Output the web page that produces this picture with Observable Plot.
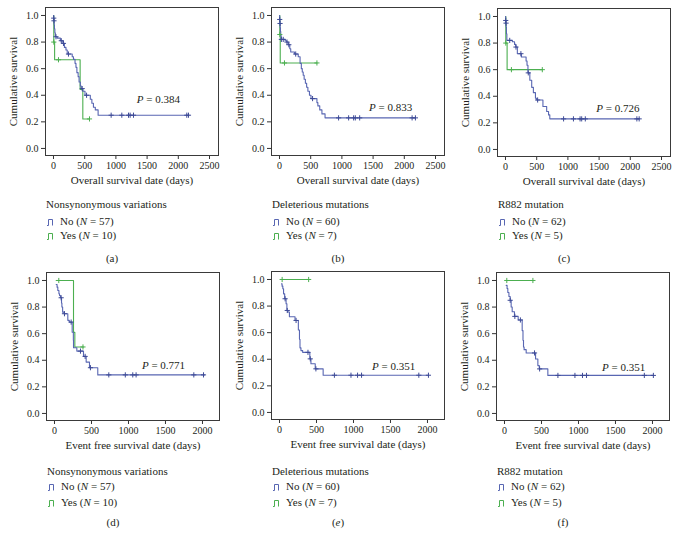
<!DOCTYPE html>
<html>
<head>
<meta charset="utf-8">
<script src="https://cdn.jsdelivr.net/npm/d3@7"></script>
<script src="https://cdn.jsdelivr.net/npm/@observablehq/plot@0.6"></script>
<style>
  html, body { margin: 0; padding: 0; background: #fff; }
  #chart { position: relative; width: 679px; height: 535px; font-family: "Liberation Serif", "DejaVu Serif", serif; color: #231f20; }
  .abs { position: absolute; white-space: nowrap; font-size: 11px; line-height: 14px; }
  .sw { display: inline-block; vertical-align: -1px; margin-right: 6px; }
</style>
</head>
<body>
<div id="chart"></div>
<script>
// ---------- data ----------
const panelLetters = ["a", "b", "c", "d", "e", "f"];
const groupTitles = ["Nonsynonymous variations", "Deleterious mutations", "R882 mutation",
                     "Nonsynonymous variations", "Deleterious mutations", "R882 mutation"];
const nNo = [57, 60, 62, 57, 60, 62];
const nYes = [10, 7, 5, 10, 7, 5];
const pValues = ["0.384", "0.833", "0.726", "0.771", "0.351", "0.351"];
const xLabels = ["Overall survival date (days)", "Overall survival date (days)", "Overall survival date (days)",
                 "Event free survival date (days)", "Event free survival date (days)", "Event free survival date (days)"];
const xTicksOS = [0, 500, 1000, 1500, 2000, 2500];
const xTicksEFS = [0, 500, 1000, 1500, 2000];
const yTicks = [0, 0.2, 0.4, 0.6, 0.8, 1.0];
const yLabel = "Cumulative survival";

// (a) overall survival, nonsynonymous variations
const aNoTime = [0, 3, 6, 10, 15, 22, 30, 60, 110, 150, 175, 200, 220, 300, 320, 345, 360, 375, 395, 410, 430, 445, 470, 505, 590, 615, 640, 670, 715, 2163];
const aNoSurv = [1, 0.98, 0.96, 0.93, 0.90, 0.87, 0.84, 0.83, 0.81, 0.79, 0.76, 0.74, 0.71, 0.69, 0.67, 0.64, 0.61, 0.57, 0.54, 0.50, 0.47, 0.45, 0.43, 0.40, 0.37, 0.34, 0.31, 0.29, 0.25, 0.25];
const aNoCensor = [4, 8, 40, 125, 160, 240, 460, 530, 924, 1095, 1202, 1228, 1282, 2136, 2163];
const aYesTime = [0, 5, 18, 427, 470, 577];
const aYesSurv = [1, 0.80, 0.667, 0.444, 0.222, 0.222];
const aYesCensor = [5, 80, 577];

// (b) overall survival, deleterious mutations
const bNoTime = [0, 3, 6, 10, 15, 20, 27, 90, 115, 140, 165, 180, 240, 300, 330, 350, 365, 380, 395, 415, 435, 455, 480, 505, 600, 615, 645, 680, 730, 2178];
const bNoSurv = [1, 0.97, 0.94, 0.91, 0.88, 0.85, 0.82, 0.81, 0.80, 0.78, 0.75, 0.725, 0.71, 0.69, 0.64, 0.60, 0.575, 0.55, 0.52, 0.49, 0.46, 0.43, 0.40, 0.375, 0.345, 0.32, 0.29, 0.26, 0.23, 0.23];
const bNoCensor = [4, 9, 30, 60, 120, 150, 260, 530, 947, 1108, 1188, 1215, 1285, 2125, 2178];
const bYesTime = [0, 5, 12, 600];
const bYesSurv = [1, 0.857, 0.643, 0.643];
const bYesCensor = [5, 80, 600];

// (c) overall survival, R882 mutation
const cNoTime = [0, 3, 6, 10, 15, 22, 110, 145, 165, 190, 255, 330, 345, 360, 390, 420, 447, 480, 500, 600, 660, 690, 710, 2142];
const cNoSurv = [1, 0.97, 0.95, 0.92, 0.87, 0.82, 0.81, 0.79, 0.77, 0.72, 0.695, 0.665, 0.633, 0.576, 0.52, 0.467, 0.427, 0.385, 0.372, 0.323, 0.285, 0.26, 0.23, 0.23];
const cNoCensor = [4, 9, 68, 168, 247, 365, 515, 931, 1089, 1195, 1221, 1279, 2105, 2142];
const cYesTime = [0, 5, 26, 590];
const cYesSurv = [1, 0.80, 0.60, 0.60];
const cYesCensor = [5, 95, 590];

// (d) event free survival, nonsynonymous variations
const dNoTime = [23, 35, 45, 60, 68, 80, 95, 100, 110, 130, 180, 200, 239, 255, 257, 302, 392, 428, 473, 585, 2027];
const dNoSurv = [0.97, 0.95, 0.925, 0.90, 0.887, 0.87, 0.83, 0.80, 0.762, 0.75, 0.70, 0.687, 0.611, 0.55, 0.494, 0.469, 0.429, 0.386, 0.344, 0.29, 0.29];
const dNoCensor = [90, 135, 225, 351, 414, 486, 734, 957, 1058, 1103, 1883, 2014];
const dYesTime = [23, 257, 275, 390];
const dYesSurv = [1, 0.61, 0.50, 0.50];
const dYesCensor = [58, 385];

// (e) event free survival, deleterious mutations
const eNoTime = [27, 35, 45, 55, 70, 89, 100, 112, 134, 210, 255, 270, 277, 290, 313, 410, 425, 483, 590, 2013];
const eNoSurv = [0.967, 0.95, 0.93, 0.892, 0.855, 0.817, 0.767, 0.755, 0.72, 0.692, 0.62, 0.55, 0.486, 0.465, 0.452, 0.403, 0.366, 0.328, 0.28, 0.28];
const eNoCensor = [76, 105, 224, 385, 416, 492, 742, 966, 1055, 1109, 1883, 2013];
const eYesTime = [36, 394];
const eYesSurv = [1, 1];
const eYesCensor = [36, 394];

// (f) event free survival, R882 mutation
const fNoTime = [23, 35, 45, 60, 77, 90, 104, 135, 185, 239, 250, 257, 265, 293, 420, 451, 470, 586, 2017];
const fNoSurv = [0.963, 0.94, 0.91, 0.88, 0.851, 0.80, 0.765, 0.73, 0.703, 0.623, 0.55, 0.50, 0.48, 0.455, 0.41, 0.36, 0.335, 0.286, 0.286];
const fNoCensor = [77, 140, 215, 406, 475, 722, 952, 1054, 1108, 1890, 2012];
const fYesTime = [31, 384];
const fYesSurv = [1, 1];
const fYesCensor = [31, 384];

const curves = [
  {noT: aNoTime, noS: aNoSurv, noC: aNoCensor, yesT: aYesTime, yesS: aYesSurv, yesC: aYesCensor},
  {noT: bNoTime, noS: bNoSurv, noC: bNoCensor, yesT: bYesTime, yesS: bYesSurv, yesC: bYesCensor},
  {noT: cNoTime, noS: cNoSurv, noC: cNoCensor, yesT: cYesTime, yesS: cYesSurv, yesC: cYesCensor},
  {noT: dNoTime, noS: dNoSurv, noC: dNoCensor, yesT: dYesTime, yesS: dYesSurv, yesC: dYesCensor},
  {noT: eNoTime, noS: eNoSurv, noC: eNoCensor, yesT: eYesTime, yesS: eYesSurv, yesC: eYesCensor},
  {noT: fNoTime, noS: fNoSurv, noC: fNoCensor, yesT: fYesTime, yesS: fYesSurv, yesC: fYesCensor}
];

// ---------- layout / style ----------
const BLUE = "#5866b2";
const BLUE_DARK = "#3d4a96";
const GREEN = "#4caf50";
const TEXT = "#231f20";
const layout = [
  {left: 0,   top: 0,   xDomain: [-128, 2644], ticks: xTicksOS,  pAt: [1680, 0.37]},
  {left: 226, top: 0,   xDomain: [-128, 2644], ticks: xTicksOS,  pAt: [1780, 0.31]},
  {left: 452, top: 1,   xDomain: [-128, 2644], ticks: xTicksOS,  pAt: [1800, 0.305]},
  {left: 1,   top: 265, xDomain: [-108, 2230], ticks: xTicksEFS, pAt: [1473, 0.36]},
  {left: 226, top: 264, xDomain: [-108, 2230], ticks: xTicksEFS, pAt: [1543, 0.346]},
  {left: 451, top: 265, xDomain: [-108, 2230], ticks: xTicksEFS, pAt: [1611, 0.348]}
];
const legendY = [[204, 221, 235, 258], [471, 486, 502, 522]];

function survAt(times, surv, t) {
  let s = surv[0];
  for (let i = 0; i < times.length; i++) if (times[i] <= t) s = surv[i];
  return s;
}

const chart = document.getElementById("chart");
const ns = "http://www.w3.org/2000/svg";

curves.forEach((c, i) => {
  const L = layout[i];
  const noRows = c.noT.map((t, k) => ({t, s: c.noS[k]}));
  const yesRows = c.yesT.map((t, k) => ({t, s: c.yesS[k]}));
  const noCens = c.noC.map(t => ({t, s: survAt(c.noT, c.noS, t)}));
  const yesCens = c.yesC.map(t => ({t, s: survAt(c.yesT, c.yesS, t)}));

  const svg = Plot.plot({
    width: 226, height: 190,
    marginLeft: 45, marginRight: 8, marginTop: 7, marginBottom: 35,
    style: {fontFamily: "'Liberation Serif', 'DejaVu Serif', serif", fontSize: "10px", color: TEXT, background: "transparent", overflow: "visible"},
    x: {domain: L.xDomain},
    y: {domain: [-0.053, 1.06]},
    marks: [
      Plot.axisX(L.ticks, {tickSize: 4, tickPadding: 2, tickFormat: d => String(d), label: null, stroke: "#333"}),
      Plot.axisY(yTicks, {tickSize: 4, tickPadding: 3, tickFormat: d3.format(".1f"), label: null, stroke: "#333"}),
      Plot.line(yesRows, {x: "t", y: "s", curve: "step-after", stroke: GREEN, strokeWidth: 1.1}),
      Plot.line(noRows, {x: "t", y: "s", curve: "step-after", stroke: BLUE, strokeWidth: 1.1}),
      Plot.dot(yesCens, {x: "t", y: "s", symbol: "plus", r: 1.8, stroke: GREEN, strokeWidth: 1}),
      Plot.dot(noCens, {x: "t", y: "s", symbol: "plus", r: 1.8, stroke: BLUE_DARK, strokeWidth: 1}),
      Plot.frame({stroke: "#3a3a3a", strokeWidth: 1}),
      Plot.text([pValues[i]], {x: () => L.pAt[0], y: () => L.pAt[1], text: d => d, fontSize: 11, fill: TEXT}),
      Plot.text([xLabels[i]], {frameAnchor: "bottom", dy: 28, text: d => d, fontSize: 11, fill: TEXT}),
      Plot.text([yLabel], {frameAnchor: "left", textAnchor: "middle", dx: -32, rotate: -90, text: d => d, fontSize: 11, fill: TEXT})
    ]
  });
  svg.style.position = "absolute";
  svg.style.left = L.left + "px";
  svg.style.top = L.top + "px";
  svg.querySelectorAll("text").forEach(t => {
    if (t.textContent === pValues[i] && t.children.length === 0) {
      t.textContent = "";
      const ts = document.createElementNS(ns, "tspan");
      ts.setAttribute("font-style", "italic");
      ts.textContent = "P";
      t.appendChild(ts);
      t.appendChild(document.createTextNode(" = " + pValues[i]));
    }
  });
  chart.appendChild(svg);

  // legend + caption
  const row = i < 3 ? 0 : 1;
  const ly = legendY[row];
  const base = L.left;
  const title = document.createElement("div");
  title.className = "abs";
  title.style.left = (base + 46) + "px";
  title.style.top = (ly[0] - 7) + "px";
  title.textContent = groupTitles[i];
  chart.appendChild(title);

  const sw = col => `<svg class="sw" width="7" height="8"><path d="M0,7.5H1.5V1.5H5.5V7.5" fill="none" stroke="${col}" stroke-width="1"/></svg>`;
  [["No", nNo[i], BLUE, ly[1]], ["Yes", nYes[i], GREEN, ly[2]]].forEach(([lab, n, col, y]) => {
    const d = document.createElement("div");
    d.className = "abs";
    d.style.left = (base + 47) + "px";
    d.style.top = (y - 7) + "px";
    d.innerHTML = `${sw(col)}${lab} (<i>N</i> = ${n})`;
    chart.appendChild(d);
  });

  const cap = document.createElement("div");
  cap.className = "abs";
  cap.style.left = (base + 112) + "px";
  cap.style.top = (ly[3] - 7) + "px";
  cap.style.transform = "translateX(-50%)";
  cap.innerHTML = panelLetters[i] === "e" ? "(<i>e</i>)" : `(${panelLetters[i]})`;
  chart.appendChild(cap);
});
</script>
</body>
</html>
